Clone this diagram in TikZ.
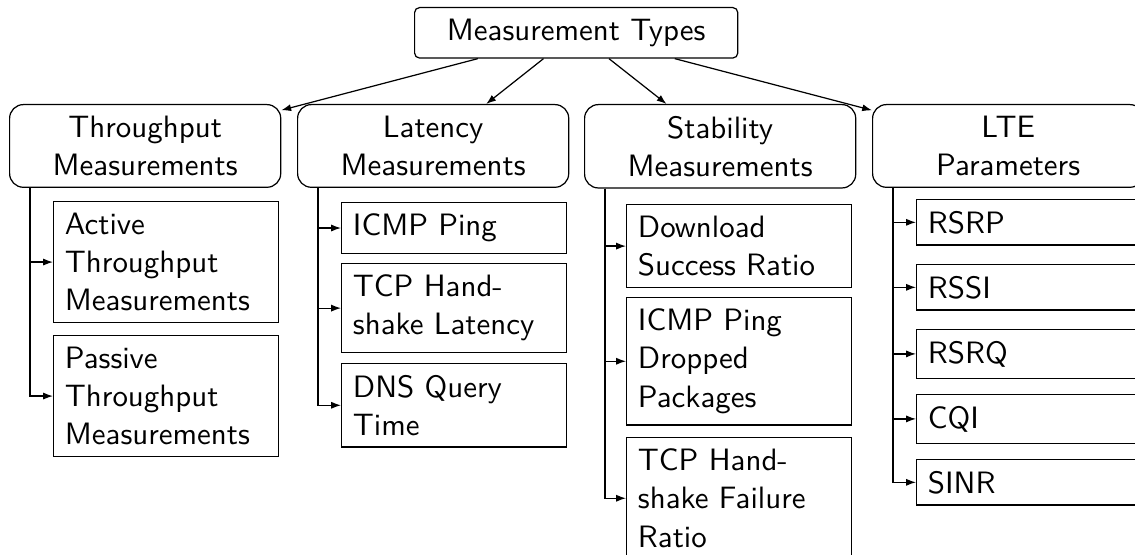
\documentclass[tikz,border=0pt]{standalone}
\usetikzlibrary{arrows.meta,calc}
\begin{document}
\begin{tikzpicture}[
  x=0.3268pt, y=-0.3268pt,
  font=\sffamily\fontsize{10.1}{12.5}\selectfont,
  >={Latex[length=3.2pt,width=2.3pt]},
  rootbox/.style={draw, rounded corners=1.6pt, inner xsep=3.7pt, inner ysep=3.7pt,
    minimum width=105.6pt, anchor=north west},
  catbox/.style={draw, rounded corners=4.5pt, align=center, inner xsep=3.7pt,
    inner ysep=3.7pt, minimum width=88.6pt, anchor=north west},
  leafbox/.style={draw, align=left, inner xsep=3.7pt, inner ysep=3.7pt,
    text width=66.1pt, anchor=north west},
]
\useasboundingbox (0,0) rectangle (1135,555);
\clip (0,0) rectangle (1135,555);

% root and the four measurement groups
\node[rootbox] (root) at (414,7) {Measurement Types};
\node[catbox] (tp)  at (9,104)   {Throughput\\Measurements};
\node[catbox] (lat) at (297,104) {Latency\\Measurements};
\node[catbox] (stb) at (584,104) {Stability\\Measurements};
\node[catbox] (lte) at (872,104) {LTE\\Parameters};

\foreach \c in {tp,lat,stb,lte} \draw[->] (root) -- (\c);

% throughput
\node[leafbox] (tpa) at (53,201) {Active\\Throughput\\Measurements};
\node[leafbox] (tpp) at (53,335) {Passive\\Throughput\\Measurements};

% latency
\node[leafbox] (lta) at (341,202) {ICMP Ping};
\node[leafbox] (ltb) at (341,263) {TCP Hand-\\shake Latency};
\node[leafbox] (ltc) at (341,363) {DNS Query\\Time};

% stability
\node[leafbox] (sta) at (626,204) {Download\\Success Ratio};
\node[leafbox] (stbb) at (626,297) {ICMP Ping\\Dropped\\Packages};
\node[leafbox] (stc) at (626,437) {TCP Hand-\\shake Failure\\Ratio};

% LTE parameters
\node[leafbox] (lta1) at (916,199) {RSRP};
\node[leafbox] (lta2) at (916,264) {RSSI};
\node[leafbox] (lta3) at (916,329) {RSRQ};
\node[leafbox] (lta4) at (916,394) {CQI};
\node[leafbox] (lta5) at (916,459) {SINR};

% folder-style connectors from each group to its items
\foreach \p/\kids in {tp/{tpa,tpp}, lat/{lta,ltb,ltc}, stb/{sta,stbb,stc},
                      lte/{lta1,lta2,lta3,lta4,lta5}}{
  \coordinate (spine) at ($(\p.south west)+(21,0)$);
  \foreach \k in \kids \draw[->] (spine) |- (\k.west);
}
\end{tikzpicture}
\end{document}
